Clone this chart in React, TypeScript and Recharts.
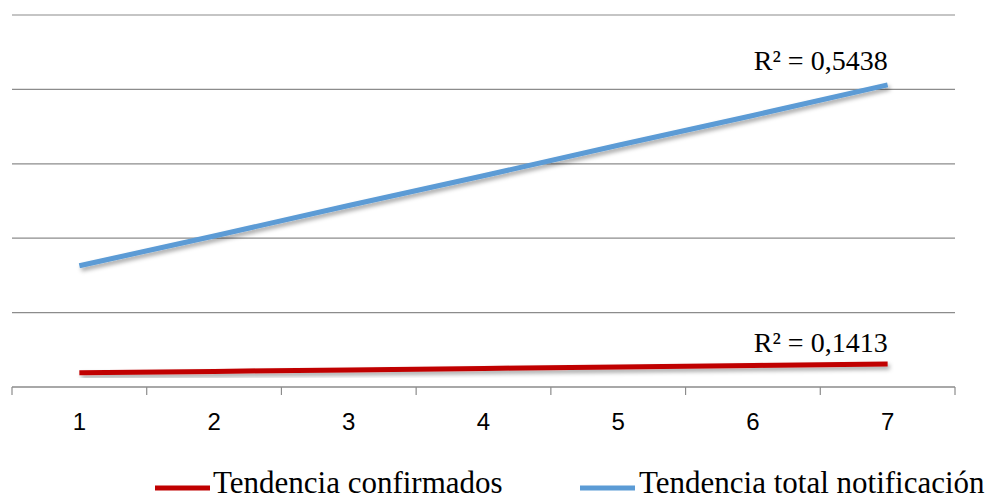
import React from 'react';
import { LineChart, Line, XAxis, YAxis, CartesianGrid, LabelList } from 'recharts';

const periods = [1, 2, 3, 4, 5, 6, 7];
const confirmados = [0.19, 0.21, 0.23, 0.25, 0.27, 0.29, 0.31];
const totalNotificacion = [1.63, 2.03, 2.44, 2.84, 3.25, 3.65, 4.06];
const yTicks = [0, 1, 2, 3, 4, 5];
const boundaryTicks = [0.5, 1.5, 2.5, 3.5, 4.5, 5.5, 6.5, 7.5];
const seriesNames = ['Tendencia confirmados', 'Tendencia total notificación'];
const r2Labels = ['R² = 0,1413', 'R² = 0,5438'];

const RED = '#C00000';
const BLUE = '#5B9BD5';
const GRID = '#8C8C8C';

const data = periods.map((p, i) => ({
  period: p,
  confirmados: confirmados[i],
  total: totalNotificacion[i],
}));

const allTicks = [...boundaryTicks, ...periods].sort((a, b) => a - b);

const makeR2Label = (text: string, lift: number) => (props: any) => {
  if (props.index !== periods.length - 1) return null;
  return (
    <text
      x={props.x}
      y={props.y - lift}
      textAnchor="end"
      fontFamily="'Liberation Serif', serif"
      fontSize={28}
      fill="#000"
    >
      {text}
    </text>
  );
};

// boundaries get a small tick mark, whole periods get the label
const PeriodTick = (props: any) => {
  const v = props.payload.value;
  if (!Number.isInteger(v)) {
    return <line x1={props.x} y1={props.y} x2={props.x} y2={props.y + 8} stroke={GRID} strokeWidth={1.2} />;
  }
  return (
    <text
      x={props.x}
      y={props.y + 43}
      textAnchor="middle"
      fontFamily="'Liberation Sans', sans-serif"
      fontSize={24}
      fill="#000"
    >
      {v}
    </text>
  );
};

export default function App() {
  return (
    <div style={{ position: 'absolute', left: 0, top: 0, width: 997, height: 501, background: '#fff', overflow: 'hidden' }}>
      <LineChart
        width={997}
        height={501}
        data={data}
        margin={{ top: 15, right: 42, bottom: 84, left: 12 }}
      >
        <defs>
          <filter id="lineShadow" x="-5%" y="-50%" width="110%" height="200%">
            <feDropShadow dx="2" dy="3" stdDeviation="2" floodColor="#000" floodOpacity="0.35" />
          </filter>
        </defs>
        <CartesianGrid vertical={false} stroke={GRID} strokeWidth={1.2} />
        <YAxis hide domain={[0, 5]} ticks={yTicks} width={0} />
        <XAxis
          dataKey="period"
          type="number"
          domain={[0.5, 7.5]}
          ticks={allTicks}
          axisLine={{ stroke: GRID, strokeWidth: 1.2 }}
          tickLine={false}
          tickSize={0}
          tickMargin={0}
          tick={<PeriodTick />}
          interval={0}
          height={30}
        />
        <Line
          dataKey="confirmados"
          name={seriesNames[0]}
          stroke={RED}
          strokeWidth={5}
          dot={false}
          filter="url(#lineShadow)"
          isAnimationActive={false}
        >
          <LabelList dataKey="confirmados" content={makeR2Label(r2Labels[0], 12)} />
        </Line>
        <Line
          dataKey="total"
          name={seriesNames[1]}
          stroke={BLUE}
          strokeWidth={5}
          dot={false}
          filter="url(#lineShadow)"
          isAnimationActive={false}
        >
          <LabelList dataKey="total" content={makeR2Label(r2Labels[1], 15)} />
        </Line>
      </LineChart>
      <svg width={997} height={501} style={{ position: 'absolute', left: 0, top: 0, pointerEvents: 'none' }}>
        <line x1={155} y1={488} x2={210} y2={488} stroke={RED} strokeWidth={5} />
        <text x={213} y={493} fontFamily="'Liberation Serif', serif" fontSize={31} fill="#000">
          {seriesNames[0]}
        </text>
        <line x1={580} y1={488} x2={635} y2={488} stroke={BLUE} strokeWidth={5} />
        <text x={639} y={493} fontFamily="'Liberation Serif', serif" fontSize={31} fill="#000">
          {seriesNames[1]}
        </text>
      </svg>
    </div>
  );
}
